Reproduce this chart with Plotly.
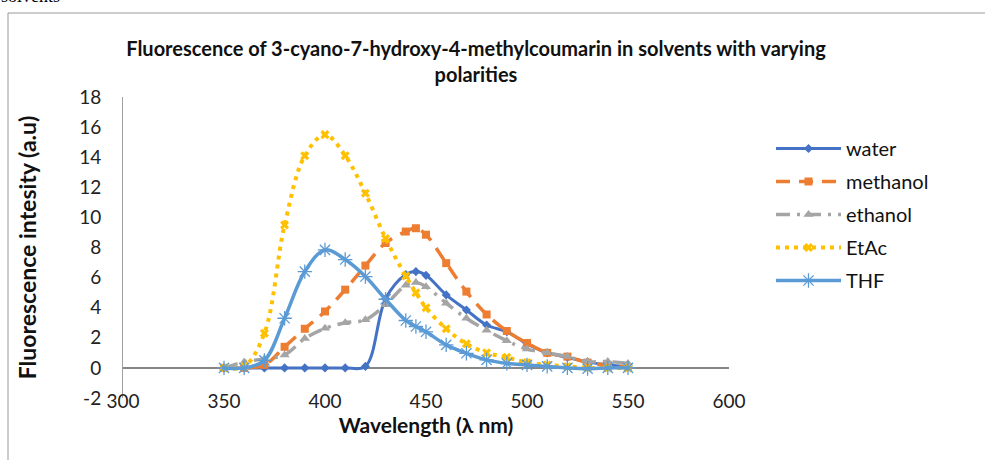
import plotly.graph_objects as go

wavelength = [350, 360, 370, 380, 390, 400, 410, 420, 430, 440, 445, 450,
              460, 470, 480, 490, 500, 510, 520, 530, 540, 550]
water = [0, 0, 0, 0, 0, 0, 0, 0.1, 4.6, 6.2, 6.4, 6.15,
         4.85, 3.85, 2.85, 2.4, 1.6, 1.0, 0.7, 0.4, 0.2, 0.1]
methanol = [0, 0, 0.2, 1.4, 2.6, 3.75, 5.2, 6.8, 8.3, 9.06, 9.28, 8.85,
            6.96, 5.07, 3.55, 2.45, 1.65, 1.0, 0.75, 0.35, 0.2, 0.05]
ethanol = [0, 0.4, 0.6, 0.86, 1.95, 2.63, 3.0, 3.2, 4.2, 5.5, 5.67, 5.4,
           4.3, 3.3, 2.5, 1.8, 1.25, 1.0, 0.75, 0.42, 0.42, 0.3]
etac = [0, 0.1, 2.3, 9.5, 14.1, 15.5, 14.1, 11.6, 8.6, 6.1, 5.0, 4.0,
        2.6, 1.6, 1.0, 0.7, 0.35, 0.2, 0.1, 0.0, 0.0, 0.0]
thf = [0, 0, 0.5, 3.3, 6.4, 7.84, 7.2, 6.07, 4.56, 3.15, 2.75, 2.4,
       1.53, 0.97, 0.53, 0.3, 0.2, 0.1, 0.0, -0.05, 0.0, 0.0]

x_ticks = [300, 350, 400, 450, 500, 550, 600]
y_ticks = [-2, 0, 2, 4, 6, 8, 10, 12, 14, 16, 18]

FONT = "Lato, 'Open Sans', sans-serif"

series = [
    ("water", water, "#4472C4", "solid", 3, "diamond", 7, None),
    ("methanol", methanol, "#ED7D31", "14px,9px", 3.5, "square", 8, None),
    ("ethanol", ethanol, "#A5A5A5", "14px,7px,3px,7px", 3.5, "triangle-up", 9, None),
    ("EtAc", etac, "#FFC000", "4px,5px", 4, "x", 8, None),
    ("THF", thf, "#5B9BD5", "solid", 3.5, "asterisk-open", 12, 1.3),
]

fig = go.Figure()
for name, vals, color, dash, lw, sym, msize, mlw in series:
    marker = dict(symbol=sym, size=msize, color=color)
    if mlw:
        marker["line"] = dict(color=color, width=mlw)
    else:
        marker["line"] = dict(width=0)
    fig.add_trace(go.Scatter(
        x=wavelength, y=vals, name=name, legendgroup=name,
        mode="lines+markers",
        line=dict(color=color, width=lw, dash=dash, shape="spline", smoothing=1),
        marker=marker,
    ))

L, R, T, B = 123, 256, 97, 62
W, H = 985, 460
pw, ph = W - L - R, H - T - B

def px(xp):
    return (xp - L) / pw

def py(yp):
    return (H - B - yp) / ph

fig.update_layout(
    width=W, height=H,
    margin=dict(l=L, r=R, t=T, b=B, autoexpand=False),
    paper_bgcolor="white", plot_bgcolor="white",
    font=dict(family=FONT, size=19, color="#222"),
    title=dict(
        text="<b>Fluorescence of 3-cyano-7-hydroxy-4-methylcoumarin in solvents with varying<br>polarities</b>",
        x=476 / W, xref="container", xanchor="center",
        y=1 - 56 / H, yref="container", yanchor="middle",
        font=dict(family=FONT, size=20, color="#111"),
    ),
    xaxis=dict(
        range=[300, 600], tickvals=x_ticks, ticktext=[str(v) for v in x_ticks],
        showgrid=False, zeroline=False, showline=False, ticks="",
        anchor="free", position=py(388),
        tickfont=dict(size=19, color="#222"),
        title=dict(text="<b>Wavelength (λ nm)</b>", font=dict(size=21, color="#111"), standoff=4),
    ),
    yaxis=dict(
        range=[-2, 18], tickvals=y_ticks, ticktext=[str(v) for v in y_ticks],
        showgrid=False, zeroline=True, zerolinecolor="#868686", zerolinewidth=2,
        showline=True, linecolor="#A0A0A0", linewidth=1, ticks="",
        ticklabelstandoff=17,
        tickfont=dict(size=19, color="#222"),
        title=dict(text="<b>Fluorescence intesity (a.u)</b>", font=dict(size=23, color="#111"), standoff=36),
    ),
    legend=dict(
        x=px(771), y=py(129), xanchor="left", yanchor="top",
        font=dict(family=FONT, size=20, color="#111"),
        itemwidth=65, tracegroupgap=4, bgcolor="rgba(0,0,0,0)",
    ),
    showlegend=True,
)

# chart border (only left and top visible in the frame)
fig.add_shape(type="rect", xref="paper", yref="paper",
              x0=px(8), x1=px(W + 20), y0=py(H + 20), y1=py(13),
              line=dict(color="#9A9A9A", width=1), layer="below")

# cut-off text from the surrounding document
fig.add_annotation(text="solvents", xref="paper", yref="paper",
                   x=px(-1), y=py(8), xanchor="left", yanchor="bottom",
                   showarrow=False,
                   font=dict(family="Liberation Serif", size=18, color="#000"))

fig.write_html("out.html", config={"displayModeBar": False},
               post_script="document.body.style.margin='0';document.body.style.padding='0';")
